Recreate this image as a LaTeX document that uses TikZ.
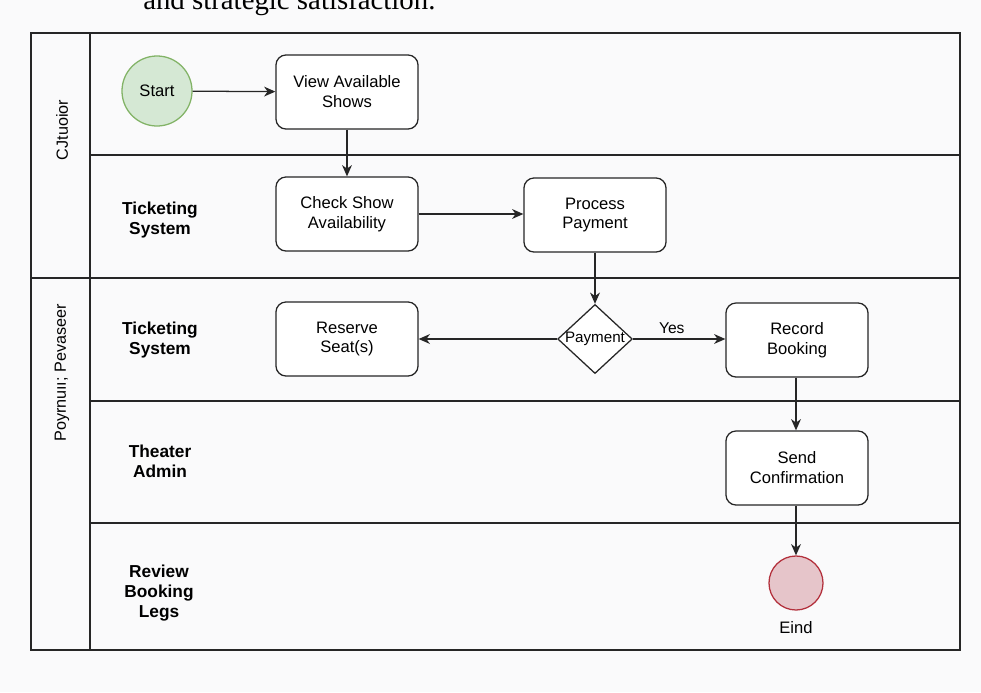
\documentclass[tikz,border=0pt]{standalone}
\usepackage{fontspec}
\setmainfont{Liberation Sans}
\newfontfamily\headserif{Liberation Serif}
\usetikzlibrary{arrows.meta,shapes.geometric}
\definecolor{startfill}{HTML}{D5E8D4}
\definecolor{startline}{HTML}{82B366}
\definecolor{endfill}{HTML}{E6C5CA}
\definecolor{endline}{HTML}{B3303C}
\definecolor{paper}{HTML}{FAFAFB}

\begin{document}
\begin{tikzpicture}[x=0.025cm,y=-0.025cm,font=\fontsize{11.8}{14.2}\selectfont]
                \tikzstyle{lane}=[line width=0.9pt,draw=black!85]
                \tikzstyle{flow}=[line width=0.9pt,draw=black!85,-{Stealth[length=8pt,width=7pt,inset=2.5pt]}]
                \tikzstyle{task}=[draw=black!85,line width=0.9pt,rounded corners=0.25cm,minimum width=3.55cm,minimum height=1.85cm,align=center,fill=white]
                \tikzstyle{gate}=[diamond,draw=black!85,line width=0.9pt,aspect=1.08,inner sep=0pt,fill=white,font=\fontsize{10.8}{13}\selectfont]
                \tikzstyle{lanename}=[align=center,font=\fontsize{12.3}{14.2}\selectfont\bfseries]
                \tikzstyle{poolname}=[rotate=90,font=\fontsize{11.5}{14}\selectfont]

                \fill[paper] (0,0) rectangle (981,692);
                \useasboundingbox (0,0) rectangle (981,692);

                \node[anchor=base west,inner sep=0pt,font=\fontsize{20.5}{24}\headserif] (caption) at (143,9) {and strategic satisfaction.};

                % pools and lanes
                \draw[lane] (31,33) rectangle (960,650);
                \draw[lane] (90,33) -- (90,650);
                \draw[lane] (31,278) -- (960,278);
                \draw[lane] (90,155) -- (960,155);
                \draw[lane] (90,401) -- (960,401);
                \draw[lane] (90,523) -- (960,523);

                \node[poolname] (pool1) at (62,130) {CJtuoior};
                \node[poolname] (pool2) at (62,373) {Poyrnuıı; Pevaseer};

                \node[lanename] (lane2) at (160,220) {Ticketing\\System};
                \node[lanename] (lane3) at (160,340) {Ticketing\\System};
                \node[lanename] (lane4) at (160,461) {Theater\\Admin};
                \node[lanename] (lane5) at (159,593) {Review\\Booking\\Legs};

                % flow nodes
                \node[circle,draw=startline,fill=startfill,line width=0.9pt,minimum size=1.75cm,inner sep=0pt] (start) at (157,91) {Start};
                \node[task] (view) at (347,92) {View Available\\Shows};
                \node[task] (check) at (347,214) {Check Show\\Availability};
                \node[task] (process) at (595,215) {Process\\Payment};
                \node[task] (reserve) at (347,339) {Reserve\\Seat(s)};
                \node[gate] (payment) at (595,339) {Payment};
                \node[task] (record) at (797,340) {Record\\Booking};
                \node[task] (confirm) at (797,468) {Send\\Confirmation};
                \node[circle,draw=endline,fill=endfill,line width=0.9pt,minimum size=1.35cm,inner sep=0pt] (end) at (796,583) {};
                \node (endlabel) at (796,628) {Eind};

                \draw[flow] (start) -- (view);
                \draw[flow] (view) -- (check);
                \draw[flow] (check) -- (check -| process.west);
                \draw[flow] (process) -- (payment);
                \draw[flow] (payment) -- (reserve);
                \draw[flow] (payment) -- node[above,pos=0.42,font=\fontsize{11.1}{13}\selectfont] (yes) {Yes} (payment -| record.west);
                \draw[flow] (record.south -| end) -- (confirm.north -| end);
                \draw[flow] (confirm.south -| end) -- (end);
\end{tikzpicture}
\end{document}
